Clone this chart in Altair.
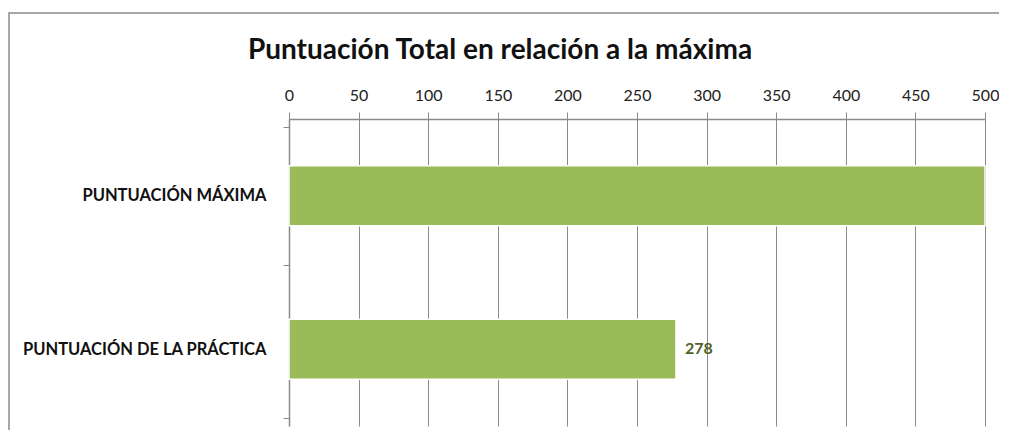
import altair as alt
import pandas as pd

categories = ["PUNTUACIÓN MÁXIMA", "PUNTUACIÓN DE LA PRÁCTICA"]
values = [500, 278]
labels = ["", "278"]
x_ticks = [0, 50, 100, 150, 200, 250, 300, 350, 400, 450, 500]
title_text = "Puntuación Total en relación a la máxima"

df = pd.DataFrame({"cat": categories, "val": values, "lab": labels})
FONT = "Lato"

base = alt.Chart(df)
deco = alt.Chart(pd.DataFrame({"t": [title_text]}))

frame = deco.mark_rect(
    fill=None, stroke="#8c8c8c", strokeWidth=1.5
).encode(
    x=alt.value(-280), x2=alt.value(760), y=alt.value(-106), y2=alt.value(340)
)

title = deco.mark_text(
    font=FONT, fontSize=28, fontWeight="bold", color="#111111",
    align="center", baseline="alphabetic"
).encode(x=alt.value(211), y=alt.value(-60), text="t:N")

bars = base.mark_bar(
    color="#9BBB59", size=60, stroke="white", strokeWidth=1.5
).encode(
    x=alt.X("val:Q",
            scale=alt.Scale(domain=[0, 500], nice=False),
            axis=alt.Axis(orient="top", values=x_ticks, title=None,
                          grid=True, gridColor="#8a8a8a", gridWidth=1,
                          domainColor="#8a8a8a", domainWidth=1.5,
                          tickColor="#8a8a8a", tickSize=7, tickWidth=1,
                          labelFont=FONT, labelFontSize=16, labelColor="#222222",
                          labelPadding=9, labelFlush=False)),
    y=alt.Y("cat:N", sort=categories,
            axis=alt.Axis(title=None, tickBand="extent", tickSize=6,
                          tickColor="#8a8a8a", domainColor="#8a8a8a",
                          domainWidth=1.5, labelFont=FONT, labelFontSize=16.5,
                          labelFontWeight="bold", labelColor="#111111",
                          labelPadding=17, labelLimit=300)),
)

text = base.mark_text(
    align="left", dx=9, font=FONT, fontSize=16, fontWeight="bold", color="#4F6228"
).encode(
    x="val:Q", y=alt.Y("cat:N", sort=categories), text="lab:N"
)

chart = alt.layer(frame, title, bars, text).properties(
    width=696, height=307,
    padding={"left": 281, "top": 111, "right": 14, "bottom": 4},
    autosize=alt.AutoSizeParams(type="none"),
).configure_view(stroke=None)

chart.save("out.html", embed_options={"renderer": "svg", "actions": False})
